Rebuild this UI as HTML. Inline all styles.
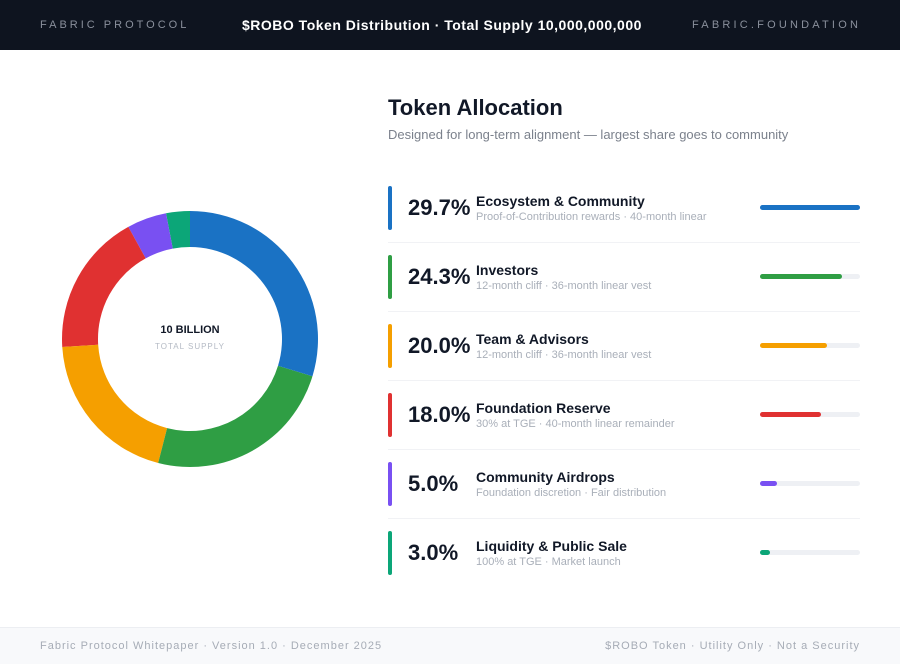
<!DOCTYPE html>
<html><head><meta charset="utf-8"><style>
*{margin:0;padding:0;box-sizing:border-box}
body{width:900px;height:664px;background:#fff;font-family:"Liberation Sans",sans-serif;position:relative;overflow:hidden}
.hdr{position:absolute;left:0;top:0;width:900px;height:50px;background:#0e141f;color:#fff}
.hdr div{position:absolute;top:18px;font-size:13px}
.ftr{position:absolute;left:0;top:627px;width:900px;height:37px;background:#f8f9fb;border-top:1px solid #eceef2;font-size:11px;color:#a6acb6;letter-spacing:1px}
.ftr div{position:absolute;top:12px}
.row{position:absolute;left:388px;width:472px;height:44px}
.acc{position:absolute;left:0;top:0;width:4px;height:44px;border-radius:2px}
.pct{position:absolute;left:20px;top:9px;font-size:22px;font-weight:bold;color:#111827}
.lab{position:absolute;left:88px;top:7px;font-size:14px;font-weight:bold;color:#111827}
.sub{position:absolute;left:88px;top:25px;font-size:11px;color:#a9afb9}
.trk{position:absolute;left:372px;top:19px;width:100px;height:5px;border-radius:3px;background:#eef0f4}
.fill{height:5px;border-radius:3px}
.sep{position:absolute;left:388px;width:472px;height:1px;background:#f1f2f5}
</style></head><body>
<div class="hdr">
<div style="left:40px;color:#8a909c;font-size:11px;letter-spacing:3px;top:19px">FABRIC PROTOCOL</div>
<div style="left:242px;font-weight:bold;font-size:14px;letter-spacing:0.5px;top:17px">$ROBO Token Distribution · Total Supply 10,000,000,000</div>
<div style="left:692px;color:#8a909c;font-size:11px;letter-spacing:3.2px;top:19px">FABRIC.FOUNDATION</div>
</div>
<div style="position:absolute;left:388px;top:95px;font-size:22px;font-weight:bold;color:#111827">Token Allocation</div>
<div style="position:absolute;left:388px;top:127px;font-size:13px;color:#7b818c">Designed for long-term alignment — largest share goes to community</div>
<svg id="donut" width="900" height="664" style="position:absolute;left:0;top:0">
<text x="190" y="333" text-anchor="middle" font-size="11" font-weight="bold" fill="#111827">10 BILLION</text>
<text x="190" y="349" text-anchor="middle" font-size="8" letter-spacing="1" fill="#b4bac4">TOTAL SUPPLY</text>
</svg>
<div id="list"></div>
<div class="ftr">
<div style="left:40px">Fabric Protocol Whitepaper · Version 1.0 · December 2025</div>
<div style="right:40px">$ROBO Token · Utility Only · Not a Security</div>
</div>
<script>
const labels=["Ecosystem & Community","Investors","Team & Advisors","Foundation Reserve","Community Airdrops","Liquidity & Public Sale"];
const values=[29.7,24.3,20.0,18.0,5.0,3.0];
const notes=["Proof-of-Contribution rewards · 40-month linear","12-month cliff · 36-month linear vest","12-month cliff · 36-month linear vest","30% at TGE · 40-month linear remainder","Foundation discretion · Fair distribution","100% at TGE · Market launch"];
const colors=["#1a72c4","#2f9e44","#f59f00","#e03131","#7950f2","#0ca678"];
const NS="http://www.w3.org/2000/svg";
const svg=document.getElementById('donut');
const cx=190,cy=339,R=128,r=92;
const total=values.reduce((a,b)=>a+b,0);
let a0=0;
values.forEach((v,i)=>{
 const a1=a0+v/total*Math.PI*2;
 const p=(rad,a)=>[cx+rad*Math.sin(a),cy-rad*Math.cos(a)];
 const [x1,y1]=p(R,a0),[x2,y2]=p(R,a1),[x3,y3]=p(r,a1),[x4,y4]=p(r,a0);
 const lg=(a1-a0)>Math.PI?1:0;
 const path=document.createElementNS(NS,'path');
 path.setAttribute('d',`M${x1},${y1}A${R},${R} 0 ${lg} 1 ${x2},${y2}L${x3},${y3}A${r},${r} 0 ${lg} 0 ${x4},${y4}Z`);
 path.setAttribute('fill',colors[i]);
 
 
 svg.insertBefore(path,svg.firstChild);
 a0=a1;
});
const list=document.getElementById('list');
const maxV=Math.max(...values);
values.forEach((v,i)=>{
 const top=186+i*69;
 const row=document.createElement('div');
 row.className='row';row.style.top=top+'px';
 
 
 row.innerHTML=`<div class="acc" style="background:${colors[i]}"></div><div class="pct">${v.toFixed(1)}%</div><div class="lab"></div><div class="sub"></div><div class="trk"><div class="fill" style="width:${v/maxV*100}%;background:${colors[i]}"></div></div>`;
 row.querySelector('.lab').textContent=labels[i];
 row.querySelector('.sub').textContent=notes[i];
 row.querySelector('.trk');
 row.querySelector('.trk');
 list.appendChild(row);
 if(i<values.length-1){
  const s=document.createElement('div');s.className='sep';s.style.top=(top+56)+'px';
  
  
  list.appendChild(s);
 }
});
</script>
</body></html>
